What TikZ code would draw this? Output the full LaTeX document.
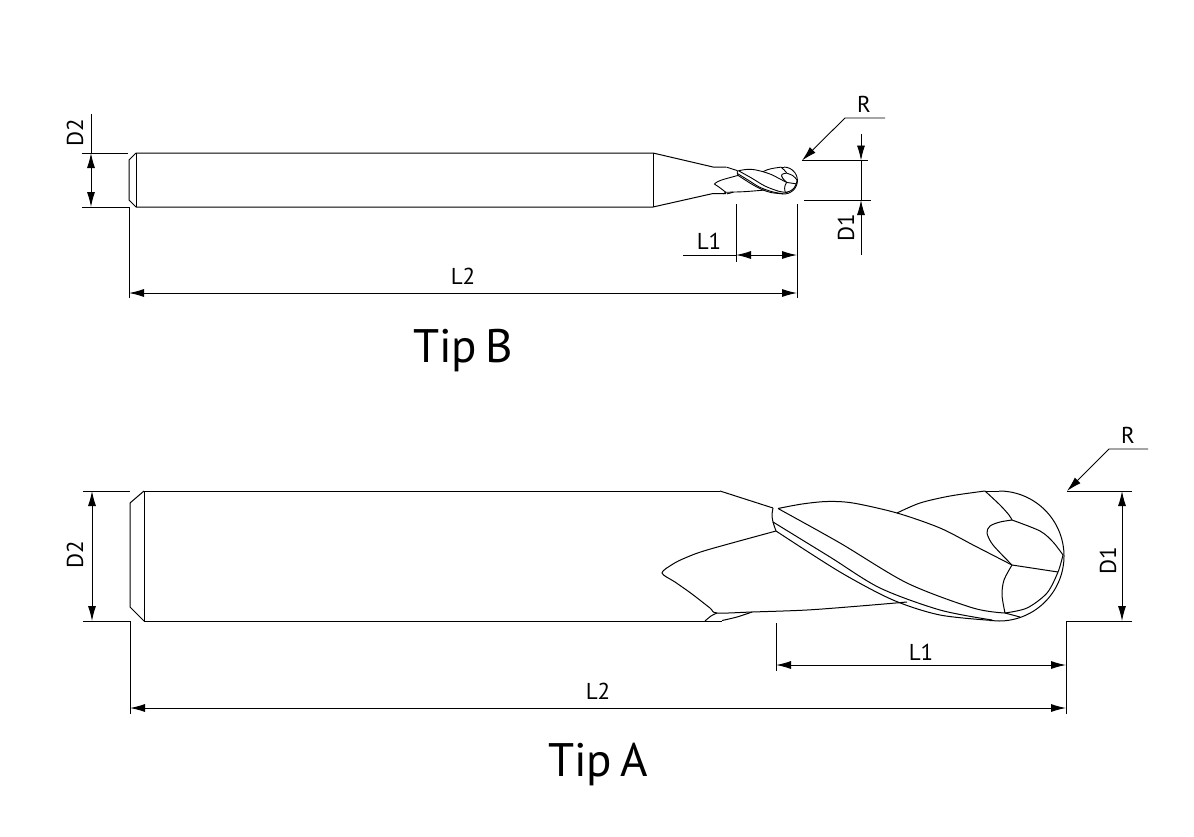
\documentclass[tikz,border=0pt]{standalone}
\usepackage{fontspec}
\setmainfont[WordSpace=0.65]{PT Sans}
\usetikzlibrary{arrows.meta}
% flutes and ball end, drawn once in the coordinates of the large tool
\newcommand{\fluteend}{
    % taper and neck
    \draw (720,491) -- (773,508);
    \draw plot[smooth] coordinates {(705,621) (711,616) (717,613)};
    \draw plot[smooth] coordinates {(722,620.5) (737,617) (752,612)};
    % outer edge of the flutes
    \draw plot[smooth] coordinates {(778,508.5) (802,504) (827,501.5) (853,503) (897,513) (940,528) (975,546) (1012,565)};
    \draw plot[smooth] coordinates {(897,513) (920,503) (950,496) (985,491)};
    \draw plot[smooth] coordinates {(773,508) (772,515) (773,522) (776,531)};
    \draw plot[smooth] coordinates {(776,531) (707,550) (685,558) (673,564) (662,573) (675,582) (692,594) (710,608) (717,613) (752,612) (807,610) (860,606) (907,602)};
    % helix band
    \draw plot[smooth] coordinates {(778,508.5) (840,543) (907,583) (973,608) (1005,613)};
    \draw plot[smooth] coordinates {(773,522) (830,557) (880,588) (940,610) (992,620)};
    \draw plot[smooth] coordinates {(776,531) (840,572) (893,600) (940,615) (993,620.5)};
    % ball
    \draw (985,491) -- (999,491);
    \draw plot[smooth,domain=-90:90,samples=37] ({999+65*cos(\x)},{556+65*sin(\x)});
    \draw (999,621) -- (990,620.5);
    \draw plot[smooth] coordinates {(985,491) (1000,505) (1009,515) (1012,520)};
    \draw plot[smooth] coordinates {(1012,520) (1040,531) (1053,542) (1063,555)};
    \draw plot[smooth] coordinates {(1012,520) (1000,522) (990,526) (987,533) (993,545) (1012,565)};
    \draw (1012,565) -- (1058,572);
    \draw plot[smooth] coordinates {(1012,565) (1004,580) (1002,595) (1005,613)};
    \draw plot[smooth] coordinates {(1005,613) (1027,608) (1047,593) (1058,572) (1063,555)};
    \draw (1005,613) -- (1020,617);
}
\begin{document}
\begin{tikzpicture}[
    x=1pt, y=-1pt,
    line width=1pt,
    dimline/.style={line width=0.9pt},
    dimarrow/.style={dimline, {Latex[length=15pt,width=8pt]}-{Latex[length=15pt,width=8pt]}},
    dimlabel/.style={font=\fontsize{23}{27}\selectfont, inner sep=0pt},
    tiplabel/.style={font=\fontsize{47}{56}\selectfont, inner sep=0pt}
]
    \useasboundingbox (0,0) rectangle (1194,836);

    % === Tip B ===
    \draw (136,153) -- (653,153) -- (713,167) -- (726,167);
    \draw (136,207) -- (653,207) -- (713,193.5) -- (726,193.5);
    \draw (136,153) -- (136,207);
    \draw (653,153) -- (653,207);
    \draw (136,153) -- (129,160) -- (129,200) -- (136,207);
    \begin{scope}[shift={(578.2,66)}, scale=0.206, line width=0.9pt]
        \fluteend
    \end{scope}

    % D2
    \coordinate (bD2a) at (91,153);
    \coordinate (bD2b) at (91,207);
    \draw[dimline] (82,153) -- (128,153);
    \draw[dimline] (82,207) -- (129,207) -- (129,298);
    \draw[dimline] (91,114) -- (bD2a);
    \draw[dimarrow] (bD2a) -- (bD2b);
    \node[dimlabel, rotate=90] (bD2) at (75,133) {D2};

    % R
    \coordinate (bRa) at (802,160.5);
    \draw[dimline, -{Latex[length=15pt,width=8pt]}] (885,118) -- (845,118) -- (bRa);
    \draw[dimline] (bRa) -- (868,160.5);
    \node[dimlabel] (bR) at (864,104) {R};

    % D1
    \coordinate (bD1a) at (861,160.5);
    \coordinate (bD1b) at (861,200);
    \draw[dimline] (804,200) -- (871,200);
    \draw[dimline, -{Latex[length=15pt,width=8pt]}] (861,134) -- (bD1a);
    \draw[dimline, -{Latex[length=15pt,width=8pt]}] (861,255) -- (bD1b);
    \draw[dimline] (bD1a) -- (bD1b);
    \node[dimlabel, rotate=90] (bD1) at (846,228) {D1};

    % L1
    \coordinate (bL1a) at (736,255);
    \coordinate (bL1b) at (797,255);
    \draw[dimline] (736,204) -- (736,262);
    \draw[dimline] (797,204) -- (797,298);
    \draw[dimline] (683,255) -- (bL1a);
    \draw[dimarrow] (bL1a) -- (bL1b);
    \node[dimlabel] (bL1) at (709,241) {L1};

    % L2
    \coordinate (bL2a) at (129,293);
    \coordinate (bL2b) at (797,293);
    \draw[dimarrow] (bL2a) -- (bL2b);
    \node[dimlabel] (bL2) at (463,276) {L2};

    \node[tiplabel] (tipB) at (463,351) {Tip B};

    % === Tip A ===
    \draw (144,491) -- (720,491);
    \draw (144,621) -- (722,621);
    \draw (144,491) -- (144,621);
    \draw (144,491) -- (130,503) -- (130,607) -- (144,621);
    \fluteend

    % D2
    \coordinate (aD2a) at (92,491);
    \coordinate (aD2b) at (92,621);
    \draw[dimline] (83,491) -- (130,491);
    \draw[dimline] (83,621) -- (130,621) -- (130,714);
    \draw[dimarrow] (aD2a) -- (aD2b);
    \node[dimlabel, rotate=90] (aD2) at (75,555) {D2};

    % R
    \coordinate (aRa) at (1067,491);
    \draw[dimline, -{Latex[length=15pt,width=8pt]}] (1148,449) -- (1109,449) -- (aRa);
    \draw[dimline] (aRa) -- (1132,491);
    \node[dimlabel] (aR) at (1128,435) {R};

    % D1
    \coordinate (aD1a) at (1122,491);
    \coordinate (aD1b) at (1122,621);
    \draw[dimline] (1132,621) -- (1066,621) -- (1066,714);
    \draw[dimarrow] (aD1a) -- (aD1b);
    \node[dimlabel, rotate=90] (aD1) at (1108,561) {D1};

    % L1
    \coordinate (aL1a) at (776,665);
    \coordinate (aL1b) at (1066,665);
    \draw[dimline] (776,623) -- (776,671);
    \draw[dimarrow] (aL1a) -- (aL1b);
    \node[dimlabel] (aL1) at (921,652) {L1};

    % L2
    \coordinate (aL2a) at (130,708);
    \coordinate (aL2b) at (1066,708);
    \draw[dimarrow] (aL2a) -- (aL2b);
    \node[dimlabel] (aL2) at (598,691) {L2};

    \node[tiplabel] (tipA) at (598,764) {Tip A};
\end{tikzpicture}
\end{document}
